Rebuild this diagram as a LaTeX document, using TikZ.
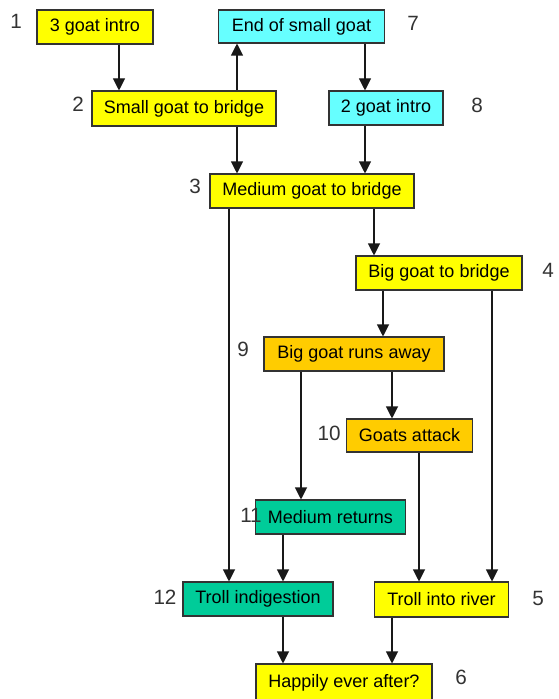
\documentclass[tikz,border=0pt]{standalone}
\usepackage{fontspec}
\setmainfont{Liberation Sans}
\usetikzlibrary{arrows.meta}
\definecolor{boxyellow}{HTML}{FFFF00}
\definecolor{boxcyan}{HTML}{66FFFF}
\definecolor{boxorange}{HTML}{FFCC00}
\definecolor{boxgreen}{HTML}{00CC99}
\definecolor{edgegray}{HTML}{333333}
\tikzset{
  stage/.style={draw=edgegray, thick, inner sep=0pt, minimum height=25.5pt, font=\fontsize{13.5}{15}\selectfont},
  num/.style={text=edgegray, font=\fontsize{15.5}{17}\selectfont},
  arr/.style={-{Triangle[width=9pt,length=9pt]}, thick, black!90},
}
\begin{document}
\begin{tikzpicture}[x=0.75pt, y=-0.75pt]
    \useasboundingbox[fill=white] (0,0) rectangle (559,699);
    % stages
    \node[stage, fill=boxyellow, minimum width=87pt] (intro3) at (95,27) {3 goat intro};
    \node[stage, fill=boxcyan, minimum width=124pt, minimum height=24.75pt] (endsmall) at (301.5,26.5) {End of small goat};
    \node[stage, fill=boxyellow, minimum width=138pt, minimum height=26.25pt] (small) at (184,108.5) {Small goat to bridge};
    \node[stage, fill=boxcyan, minimum width=85.5pt] (intro2) at (386,108) {2 goat intro};
    \node[stage, fill=boxyellow, minimum width=153pt] (medium) at (312,191) {Medium goat to bridge};
    \node[stage, fill=boxyellow, minimum width=124.5pt] (big) at (439,273) {Big goat to bridge};
    \node[stage, fill=boxorange, minimum width=135pt] (runaway) at (354,354) {Big goat runs away};
    \node[stage, fill=boxorange, minimum width=94pt, minimum height=24.75pt] (attack) at (409.5,435.5) {Goats attack};
    \node[stage, fill=boxgreen, minimum width=112pt] (returns) at (330.5,517) {Medium returns};
    \node[stage, fill=boxgreen, minimum width=112.5pt] (indigestion) at (258,599) {Troll indigestion};
    \node[stage, fill=boxyellow, minimum width=101pt, minimum height=26.25pt] (river) at (441.5,599.5) {Troll into river};
    \node[stage, fill=boxyellow, minimum width=132pt, minimum height=28.5pt] (happy) at (344,683) {Happily ever after?};
    % numbers
    \node[num] (n1) at (16,21) {1};
    \node[num] (n2) at (78,104) {2};
    \node[num] (n3) at (195,186) {3};
    \node[num] (n4) at (548,270) {4};
    \node[num] (n5) at (538,598) {5};
    \node[num] (n6) at (461,677) {6};
    \node[num] (n7) at (413,23) {7};
    \node[num] (n8) at (477,105) {8};
    \node[num] (n9) at (243,349) {9};
    \node[num] (n10) at (329,433) {10};
    \node[num] (n11) at (251,515) {11};
    \node[num] (n12) at (165,597) {12};
    % connectors
    \draw[arr] (intro3.south -| 119,0) -- (small.north -| 119,0);
    \draw[arr] (small.north -| 237,0) -- (endsmall.south -| 237,0);
    \draw[arr] (endsmall.south -| 365,0) -- (intro2.north -| 365,0);
    \draw[arr] (small.south -| 237,0) -- (medium.north -| 237,0);
    \draw[arr] (intro2.south -| 365,0) -- (medium.north -| 365,0);
    \draw[arr] (medium.south -| 374,0) -- (big.north -| 374,0);
    \draw[arr] (medium.south -| 229,0) -- (indigestion.north -| 229,0);
    \draw[arr] (big.south -| 383,0) -- (runaway.north -| 383,0);
    \draw[arr] (big.south -| 492,0) -- (river.north -| 492,0);
    \draw[arr] (runaway.south -| 392,0) -- (attack.north -| 392,0);
    \draw[arr] (runaway.south -| 301,0) -- (returns.north -| 301,0);
    \draw[arr] (attack.south -| 419,0) -- (river.north -| 419,0);
    \draw[arr] (returns.south -| 283,0) -- (indigestion.north -| 283,0);
    \draw[arr] (indigestion.south -| 283,0) -- (happy.north -| 283,0);
    \draw[arr] (river.south -| 392,0) -- (happy.north -| 392,0);
\end{tikzpicture}
\end{document}
